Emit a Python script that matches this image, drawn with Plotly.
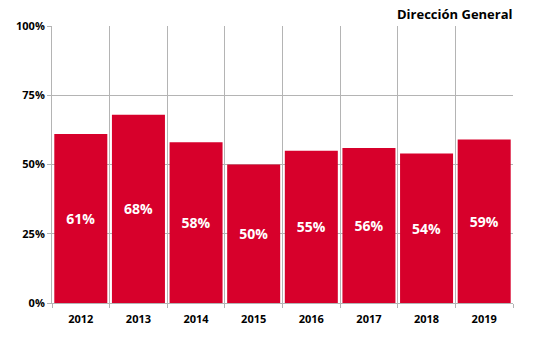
import plotly.graph_objects as go

years = ["2012", "2013", "2014", "2015", "2016", "2017", "2018", "2019"]
shares = [61, 68, 58, 50, 55, 56, 54, 59]
y_ticks = [0, 25, 50, 75, 100]
y_tick_text = ["0%", "25%", "50%", "75%", "100%"]

fig = go.Figure(
    go.Bar(
        x=years,
        y=shares,
        marker=dict(color="#d7002b", line=dict(width=0)),
        text=[f"{v}%" for v in shares],
        textposition="inside",
        insidetextanchor="middle",
        textfont=dict(family="Open Sans", size=14, color="white", weight="bold"),
        hoverinfo="skip",
    )
)

fig.update_layout(
    width=539,
    height=349,
    margin=dict(l=52, r=26, t=26, b=46),
    paper_bgcolor="white",
    plot_bgcolor="white",
    bargap=0.08,
    showlegend=False,
    font=dict(family="Open Sans", color="black"),
    annotations=[
        dict(
            text="Dirección General",
            xref="paper", yref="paper",
            x=1.005, y=1.0,
            xanchor="right", yanchor="bottom",
            yshift=1,
            showarrow=False,
            font=dict(family="Open Sans", size=13, color="black", weight="bold"),
        )
    ],
)

fig.update_xaxes(
    type="category",
    tickson="boundaries",
    showgrid=True,
    gridcolor="#b4b4b4",
    gridwidth=1,
    ticks="outside",
    ticklen=4,
    tickcolor="#b4b4b4",
    showline=True,
    linecolor="#b4b4b4",
    tickfont=dict(family="Open Sans", size=11, color="black", weight="bold"),
    ticklabelstandoff=6,
)

fig.update_yaxes(
    range=[0, 100],
    tickvals=y_ticks,
    ticktext=y_tick_text,
    showgrid=True,
    gridcolor="#b4b4b4",
    gridwidth=1,
    ticks="outside",
    ticklen=4,
    tickcolor="#b4b4b4",
    showline=True,
    linecolor="#b4b4b4",
    zeroline=False,
    tickfont=dict(family="Open Sans", size=11, color="black", weight="bold"),
)

fig.write_html("out.html")
